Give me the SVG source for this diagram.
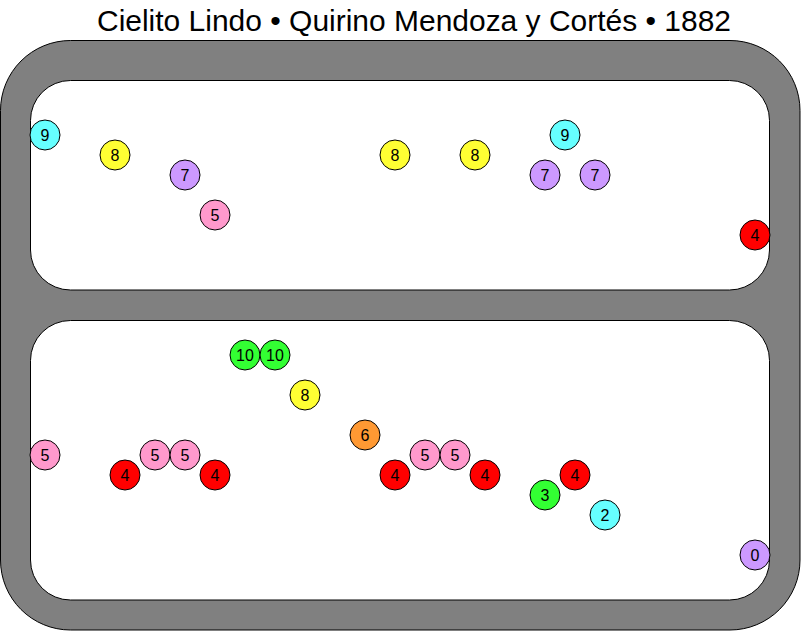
<svg xmlns="http://www.w3.org/2000/svg" width="801" height="631" viewBox="0 0 801 631">
<style>
.frame{fill:#808080;stroke:#000;stroke-width:1}
.room{fill:#fff;stroke:#000;stroke-width:1}
.n circle{stroke:#000;stroke-width:1}
.n text{font-family:"Liberation Sans",Arial,sans-serif;font-size:16px;text-anchor:middle;dominant-baseline:central;fill:#000}
.title{font-family:"Liberation Sans",Arial,sans-serif;font-size:29px;text-anchor:middle;fill:#000}
.c9,.c2{fill:#66ffff}.c8{fill:#ffff33}.c7,.c0{fill:#cc99ff}.c5{fill:#ff99cc}.c4{fill:#ff0000}.c10,.c3{fill:#33ff33}.c6{fill:#ff9933}
</style>
<text class="title" x="414" y="31" textLength="634" lengthAdjust="spacingAndGlyphs">Cielito Lindo • Quirino Mendoza y Cortés • 1882</text>
<g id="frame">
<rect class="frame" x="0.5" y="40.5" width="799.5" height="589.5" rx="70" ry="70"/>
<rect class="room" x="30.5" y="80.5" width="739" height="209.5" rx="40" ry="40"/>
<rect class="room" x="30.5" y="320.5" width="739" height="279.5" rx="40" ry="40"/>
</g>
<g id="connectors"></g>
<g id="n1" class="n"><circle class="c9" cx="45" cy="135" r="15"/><text x="45" y="135">9</text></g>
<g id="n2" class="n"><circle class="c8" cx="115" cy="155" r="15"/><text x="115" y="155">8</text></g>
<g id="n3" class="n"><circle class="c7" cx="185" cy="175" r="15"/><text x="185" y="175">7</text></g>
<g id="n4" class="n"><circle class="c5" cx="215" cy="215" r="15"/><text x="215" y="215">5</text></g>
<g id="n5" class="n"><circle class="c8" cx="395" cy="155" r="15"/><text x="395" y="155">8</text></g>
<g id="n6" class="n"><circle class="c8" cx="475" cy="155" r="15"/><text x="475" y="155">8</text></g>
<g id="n7" class="n"><circle class="c9" cx="565" cy="135" r="15"/><text x="565" y="135">9</text></g>
<g id="n8" class="n"><circle class="c7" cx="545" cy="175" r="15"/><text x="545" y="175">7</text></g>
<g id="n9" class="n"><circle class="c7" cx="595" cy="175" r="15"/><text x="595" y="175">7</text></g>
<g id="n10" class="n"><circle class="c4" cx="755" cy="235" r="15"/><text x="755" y="235">4</text></g>
<g id="n11" class="n"><circle class="c10" cx="245" cy="355" r="15"/><text x="245" y="355">10</text></g>
<g id="n12" class="n"><circle class="c10" cx="275" cy="355" r="15"/><text x="275" y="355">10</text></g>
<g id="n13" class="n"><circle class="c8" cx="305" cy="395" r="15"/><text x="305" y="395">8</text></g>
<g id="n14" class="n"><circle class="c6" cx="365" cy="435" r="15"/><text x="365" y="435">6</text></g>
<g id="n15" class="n"><circle class="c5" cx="45" cy="455" r="15"/><text x="45" y="455">5</text></g>
<g id="n16" class="n"><circle class="c4" cx="125" cy="475" r="15"/><text x="125" y="475">4</text></g>
<g id="n17" class="n"><circle class="c5" cx="155" cy="455" r="15"/><text x="155" y="455">5</text></g>
<g id="n18" class="n"><circle class="c5" cx="185" cy="455" r="15"/><text x="185" y="455">5</text></g>
<g id="n19" class="n"><circle class="c4" cx="215" cy="475" r="15"/><text x="215" y="475">4</text></g>
<g id="n20" class="n"><circle class="c4" cx="395" cy="475" r="15"/><text x="395" y="475">4</text></g>
<g id="n21" class="n"><circle class="c5" cx="425" cy="455" r="15"/><text x="425" y="455">5</text></g>
<g id="n22" class="n"><circle class="c5" cx="455" cy="455" r="15"/><text x="455" y="455">5</text></g>
<g id="n23" class="n"><circle class="c4" cx="485" cy="475" r="15"/><text x="485" y="475">4</text></g>
<g id="n24" class="n"><circle class="c3" cx="545" cy="495" r="15"/><text x="545" y="495">3</text></g>
<g id="n25" class="n"><circle class="c4" cx="575" cy="475" r="15"/><text x="575" y="475">4</text></g>
<g id="n26" class="n"><circle class="c2" cx="605" cy="515" r="15"/><text x="605" y="515">2</text></g>
<g id="n27" class="n"><circle class="c0" cx="755" cy="555" r="15"/><text x="755" y="555">0</text></g>
</svg>
